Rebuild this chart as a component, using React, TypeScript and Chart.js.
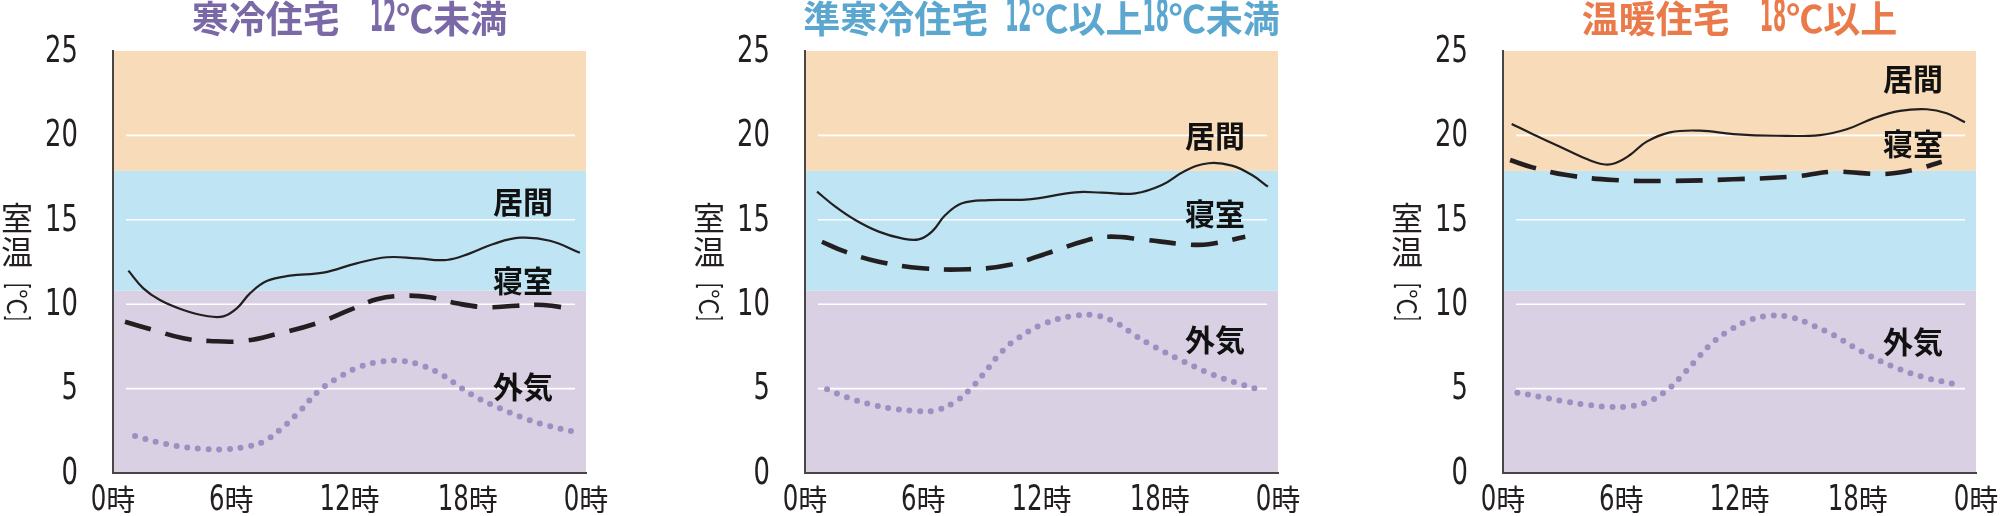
import React, { useEffect, useRef } from 'react';
import { Chart, registerables } from 'chart.js';

Chart.register(...registerables);

// ---- axes ----
const xTickValues = [0, 6, 12, 18, 24];
const xTickLabels = ['0時', '6時', '12時', '18時', '0時'];
const yTickValues = [0, 5, 10, 15, 20, 25];
const yTickLabels = ['0', '5', '10', '15', '20', '25'];
const gridValues = [5, 10, 15, 20];
const bandEdges = [0, 10.8, 17.9, 25];
const seriesNames = ['居間', '寝室', '外気'];
const panelTitles = ['寒冷住宅　12℃未満', '準寒冷住宅 12℃以上18℃未満', '温暖住宅　18℃以上'];
const yAxisTitle = ['室', '温', '[℃]'];

// ---- 寒冷住宅 ----
const coldLivingHours = [0.78, 1.54, 2.38, 3.57, 4.75, 5.6, 6.28, 6.95, 7.8, 8.98, 10.67, 12.36, 13.89, 15.41, 16.93, 18.11, 19.3, 20.65, 22.17, 23.69];
const coldLivingTemps = [11.99, 10.94, 10.25, 9.66, 9.3, 9.28, 9.75, 10.64, 11.37, 11.69, 11.87, 12.42, 12.78, 12.72, 12.62, 13.01, 13.57, 13.94, 13.76, 13.05];
const coldBedHours = [0.61, 2.05, 3.57, 4.92, 6.61, 8.3, 10.33, 12.02, 13.38, 14.73, 16.08, 17.44, 18.96, 20.48, 21.83, 23.44];
const coldBedTemps = [8.96, 8.47, 7.98, 7.82, 7.82, 8.23, 8.87, 9.66, 10.29, 10.5, 10.41, 10.05, 9.82, 9.91, 9.95, 9.7];
const coldOutHours = [1.12, 2.22, 3.23, 4.41, 5.51, 6.61, 7.63, 8.56, 9.4, 10.5, 11.52, 12.45, 13.55, 14.65, 15.74, 16.76, 17.69, 18.62, 19.63, 20.65, 21.75, 23.35];
const coldOutTemps = [2.19, 1.84, 1.6, 1.44, 1.4, 1.52, 1.86, 2.65, 3.57, 4.92, 5.71, 6.26, 6.59, 6.64, 6.34, 5.77, 5.02, 4.37, 3.83, 3.34, 2.9, 2.45];
const coldLabelTemps = [16.07, 11.39, 5.11];

// ---- 準寒冷住宅 ----
const semiLivingHours = [0.61, 1.54, 2.55, 3.74, 4.92, 5.77, 6.44, 7.12, 7.97, 9.32, 11.35, 13.72, 15.07, 16.76, 18.11, 19.3, 20.48, 21.66, 22.68, 23.49];
const semiLivingTemps = [16.67, 15.78, 14.99, 14.3, 13.9, 13.84, 14.3, 15.28, 15.98, 16.17, 16.21, 16.63, 16.61, 16.57, 17.06, 17.91, 18.35, 18.21, 17.65, 16.96];
const semiBedHours = [0.86, 2.04, 3.74, 5.94, 8.3, 10.33, 12.53, 14.22, 15.41, 17.1, 19.3, 20.48, 22.34];
const semiBedTemps = [13.7, 13.11, 12.52, 12.13, 12.07, 12.32, 13.11, 13.76, 14.0, 13.84, 13.55, 13.55, 14.0];
const semiOutHours = [1.12, 2.13, 3.23, 4.33, 5.43, 6.53, 7.54, 8.39, 9.15, 9.83, 10.67, 12.11, 13.72, 14.82, 15.83, 16.76, 17.77, 19.21, 20.73, 21.83, 22.88];
const semiOutTemps = [4.96, 4.48, 4.09, 3.83, 3.69, 3.69, 4.16, 4.98, 6.0, 6.99, 7.88, 8.83, 9.32, 9.32, 8.87, 8.14, 7.45, 6.6, 5.81, 5.37, 5.0];
const semiLabelTemps = [20.0, 15.38, 7.88];

// ---- 温暖住宅 ----
const warmLivingHours = [0.44, 1.54, 2.89, 4.25, 5.09, 5.68, 6.44, 7.29, 8.47, 10.0, 11.69, 13.89, 16.08, 17.44, 18.79, 20.14, 21.5, 22.51, 23.44];
const warmLivingTemps = [20.68, 20.06, 19.33, 18.6, 18.29, 18.35, 18.84, 19.63, 20.18, 20.28, 20.08, 19.98, 20.02, 20.36, 21.01, 21.45, 21.55, 21.31, 20.78];
const warmBedHours = [0.36, 1.54, 3.23, 5.6, 8.3, 11.69, 14.73, 16.76, 19.3, 20.82, 22.26];
const warmBedTemps = [18.54, 18.09, 17.65, 17.36, 17.3, 17.4, 17.56, 17.85, 17.71, 17.95, 18.44];
const warmOutHours = [0.73, 1.88, 2.98, 4.07, 5.18, 6.28, 7.29, 8.3, 9.07, 9.83, 10.59, 11.52, 12.53, 13.55, 14.65, 15.74, 16.76, 18.2, 19.72, 21.24, 22.88];
const warmOutTemps = [4.76, 4.52, 4.27, 4.07, 3.93, 3.93, 4.19, 4.88, 5.75, 6.74, 7.68, 8.47, 9.06, 9.32, 9.22, 8.73, 8.18, 7.19, 6.34, 5.71, 5.27];
const warmLabelTemps = [23.34, 19.53, 7.78];

const labelHour = 20.8;

// ---- styles ----
const INK = '#231f20';
const AXIS = '#4a4646';
const OUTDOOR = '#9c8fc2';
const bandColors = ['#d9d1e3', '#bfe4f3', '#f8dbb9'];
const titleColors = ['#7a69a6', '#5ba7cf', '#ea7a4a'];
const DIGITS = "'DejaVu Sans', sans-serif";
const CJK = "'Noto Sans CJK JP', sans-serif";
const CONDENSE = 0.68;

const CANVAS_W = 610;
const CANVAS_H = 516;
const AXIS_W = 113;
const canvasLefts = [0, 692, 1390];

const toPoints = (hs: number[], ts: number[]) => hs.map((h, i) => ({ x: h, y: ts[i] }));

// narrow digits: draw text squeezed horizontally starting at x (left-aligned) or ending at x
function squeezed(ctx: CanvasRenderingContext2D, text: string, x: number, y: number, k: number, align: 'left' | 'right' | 'center') {
  const w = ctx.measureText(text).width * k;
  let startX = x;
  if (align === 'right') startX = x - w;
  else if (align === 'center') startX = x - w / 2;
  ctx.save();
  ctx.translate(startX, y);
  ctx.scale(k, 1);
  ctx.textAlign = 'left';
  ctx.fillText(text, 0, 0);
  ctx.restore();
  return w;
}

// title: CJK glyphs at full width, digits narrow
const TITLE_CJK = `bold 37px ${CJK}`;
const TITLE_DIG = `bold 45px ${DIGITS}`;
const TITLE_DIG_K = 0.42;
function titleRuns(ctx: CanvasRenderingContext2D, title: string) {
  return Array.from(title).map((ch) => {
    if (/[0-9]/.test(ch)) {
      ctx.font = TITLE_DIG;
      return { ch, font: TITLE_DIG, k: TITLE_DIG_K, w: ctx.measureText(ch).width * TITLE_DIG_K };
    }
    if (ch === ' ') return { ch, font: TITLE_CJK, k: 1, w: 17 };
    if (ch === '　') return { ch, font: TITLE_CJK, k: 1, w: 30 };
    ctx.font = TITLE_CJK;
    return { ch, font: TITLE_CJK, k: 1, w: ctx.measureText(ch).width };
  });
}

const decorPlugin = {
  id: 'decor',
  beforeDraw(chart: any) {
    const { ctx, chartArea, scales } = chart;
    const { left, right } = chartArea;
    const y = scales.y;
    ctx.save();
    for (let i = 0; i < bandColors.length; i++) {
      const y1 = y.getPixelForValue(bandEdges[i]);
      const y2 = y.getPixelForValue(bandEdges[i + 1]);
      ctx.fillStyle = bandColors[i];
      ctx.fillRect(left, y2, right - left, y1 - y2);
    }
    ctx.strokeStyle = '#ffffff';
    ctx.lineWidth = 1.6;
    for (const v of gridValues) {
      const py = y.getPixelForValue(v);
      ctx.beginPath();
      ctx.moveTo(left + 13, py);
      ctx.lineTo(right - 11, py);
      ctx.stroke();
    }
    ctx.restore();
  },
  afterDatasetsDraw(chart: any, _args: any, opts: any) {
    const { ctx, scales } = chart;
    ctx.save();
    ctx.fillStyle = '#111111';
    ctx.font = `bold 30px ${CJK}`;
    ctx.textAlign = 'center';
    ctx.textBaseline = 'middle';
    seriesNames.forEach((name, i) => {
      ctx.fillText(name, scales.x.getPixelForValue(labelHour), scales.y.getPixelForValue(opts.labelTemps[i]));
    });
    ctx.restore();
  },
  afterDraw(chart: any, _args: any, opts: any) {
    const { ctx, chartArea, scales } = chart;
    ctx.save();
    ctx.textBaseline = 'middle';

    // y tick labels (narrow digits) at the scale's tick positions
    ctx.fillStyle = INK;
    ctx.font = `38px ${DIGITS}`;
    scales.y.ticks.forEach((t: any, i: number) => {
      squeezed(ctx, yTickLabels[i], chartArea.left - 35, scales.y.getPixelForValue(t.value) + 1, CONDENSE, 'right');
    });

    // x tick labels: narrow digits + 時
    scales.x.ticks.forEach((t: any, i: number) => {
      const label = xTickLabels[i];
      const num = label.replace('時', '');
      const cx = scales.x.getPixelForValue(t.value);
      ctx.font = `36px ${DIGITS}`;
      const nw = ctx.measureText(num).width * CONDENSE;
      ctx.font = `29px ${CJK}`;
      const kw = ctx.measureText('時').width;
      const start = cx - (nw + kw) / 2;
      ctx.font = `36px ${DIGITS}`;
      squeezed(ctx, num, start, 501, CONDENSE, 'left');
      ctx.font = `29px ${CJK}`;
      ctx.textAlign = 'left';
      ctx.fillText('時', start + nw, 500);
    });

    // title
    ctx.fillStyle = opts.titleColor;
    const runs = titleRuns(ctx, opts.title);
    const total = runs.reduce((s, r) => s + r.w, 0);
    let tx = (chartArea.left + chartArea.right) / 2 - total / 2;
    for (const r of runs) {
      if (r.ch !== ' ' && r.ch !== '　') {
        ctx.font = r.font;
        squeezed(ctx, r.ch, tx, 19, r.k, 'left');
      }
      tx += r.w;
    }

    // y-axis title (vertical writing)
    ctx.fillStyle = INK;
    ctx.font = `32px ${CJK}`;
    ctx.textAlign = 'center';
    ctx.fillText(yAxisTitle[0], 17, 218);
    ctx.fillText(yAxisTitle[1], 17, 252);
    ctx.save();
    ctx.translate(17, 302);
    ctx.rotate(Math.PI / 2);
    const unit = yAxisTitle[2];
    const open = unit.charAt(0);
    const mid = unit.slice(1, -1);
    const close = unit.charAt(unit.length - 1);
    ctx.font = `30px ${DIGITS}`;
    const bw = ctx.measureText(open).width * 0.5;
    ctx.font = `26px ${CJK}`;
    const mw = ctx.measureText(mid).width;
    let ux = -(bw * 2 + mw) / 2;
    ctx.font = `30px ${DIGITS}`;
    squeezed(ctx, open, ux, 1, 0.5, 'left');
    ux += bw;
    ctx.font = `26px ${CJK}`;
    ctx.textAlign = 'left';
    ctx.fillText(mid, ux, 0);
    ux += mw;
    ctx.font = `30px ${DIGITS}`;
    squeezed(ctx, close, ux, 1, 0.5, 'left');
    ctx.restore();
    ctx.restore();
  },
};

type PanelProps = {
  index: number;
  living: { x: number; y: number }[];
  bed: { x: number; y: number }[];
  out: { x: number; y: number }[];
  labelTemps: number[];
};

function Panel({ index, living, bed, out, labelTemps }: PanelProps) {
  const ref = useRef<HTMLCanvasElement | null>(null);
  useEffect(() => {
    if (!ref.current) return;
    const chart = new Chart(ref.current, {
      type: 'line',
      data: {
        datasets: [
          {
            label: seriesNames[0],
            data: living,
            borderColor: INK,
            borderWidth: 2.2,
            pointRadius: 0,
            tension: 0.4,
            fill: false,
          },
          {
            label: seriesNames[1],
            data: bed,
            borderColor: INK,
            borderWidth: 4.6,
            borderDash: [27, 15],
            pointRadius: 0,
            tension: 0.4,
            fill: false,
          },
          {
            label: seriesNames[2],
            data: out,
            borderColor: OUTDOOR,
            borderWidth: 6,
            borderDash: [0, 10.7],
            borderCapStyle: 'round',
            pointRadius: 0,
            tension: 0.4,
            fill: false,
          },
        ],
      },
      options: {
        responsive: false,
        animation: false,
        layout: { padding: { top: 51, right: CANVAS_W - AXIS_W - 473, left: 0, bottom: 0 } },
        plugins: {
          legend: { display: false },
          tooltip: { enabled: false },
          title: { display: false },
          decor: { title: panelTitles[index], titleColor: titleColors[index], labelTemps },
        } as any,
        scales: {
          x: {
            type: 'linear',
            min: 0,
            max: 24,
            grid: { display: false, drawTicks: false },
            border: { display: true, color: AXIS, width: 2 },
            afterBuildTicks: (s: any) => {
              s.ticks = xTickValues.map((v) => ({ value: v }));
            },
            afterFit: (s: any) => {
              s.height = CANVAS_H - 473;
              s.paddingLeft = 0;
              s.paddingRight = 0;
            },
            ticks: { display: false, callback: (_v: any, i: number) => xTickLabels[i] },
          },
          y: {
            type: 'linear',
            min: 0,
            max: 25,
            grid: { display: false, drawTicks: false },
            border: { display: true, color: AXIS, width: 2 },
            afterBuildTicks: (s: any) => {
              s.ticks = yTickValues.map((v) => ({ value: v }));
            },
            afterFit: (s: any) => {
              s.width = AXIS_W;
              s.paddingTop = 0;
              s.paddingBottom = 0;
            },
            ticks: { display: false, callback: (_v: any, i: number) => yTickLabels[i] },
          },
        },
      } as any,
      plugins: [decorPlugin as any],
    });
    return () => chart.destroy();
  }, []);
  return (
    <canvas
      ref={ref}
      width={CANVAS_W}
      height={CANVAS_H}
      style={{ position: 'absolute', left: canvasLefts[index], top: 0, width: CANVAS_W, height: CANVAS_H }}
    />
  );
}

export default function App() {
  return (
    <div style={{ position: 'absolute', left: 0, top: 0, width: 2000, height: 516, background: '#ffffff', overflow: 'hidden' }}>
      <Panel
        index={0}
        living={toPoints(coldLivingHours, coldLivingTemps)}
        bed={toPoints(coldBedHours, coldBedTemps)}
        out={toPoints(coldOutHours, coldOutTemps)}
        labelTemps={coldLabelTemps}
      />
      <Panel
        index={1}
        living={toPoints(semiLivingHours, semiLivingTemps)}
        bed={toPoints(semiBedHours, semiBedTemps)}
        out={toPoints(semiOutHours, semiOutTemps)}
        labelTemps={semiLabelTemps}
      />
      <Panel
        index={2}
        living={toPoints(warmLivingHours, warmLivingTemps)}
        bed={toPoints(warmBedHours, warmBedTemps)}
        out={toPoints(warmOutHours, warmOutTemps)}
        labelTemps={warmLabelTemps}
      />
    </div>
  );
}
